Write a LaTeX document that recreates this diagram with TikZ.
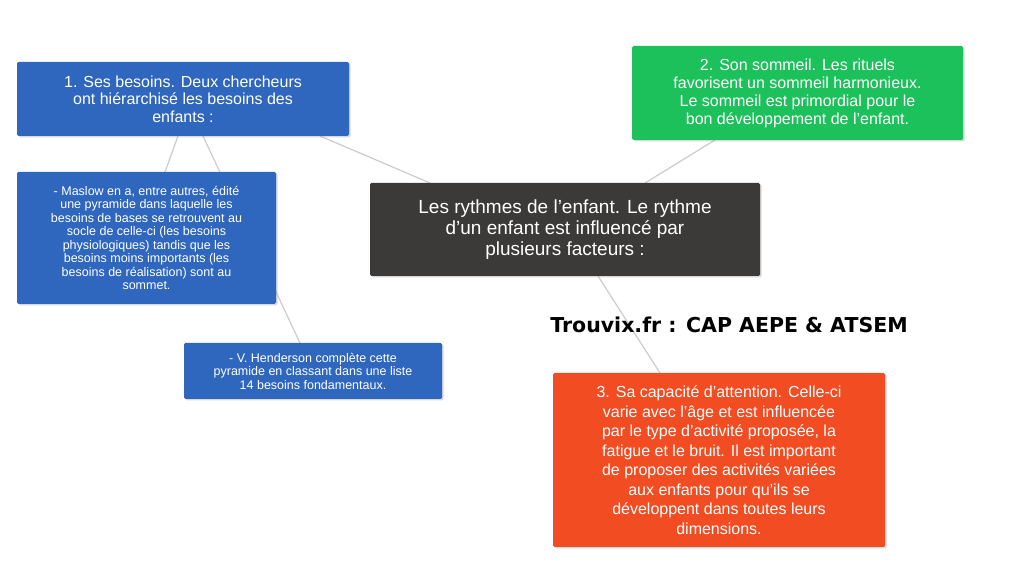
\documentclass[tikz,border=0pt]{standalone}
\usepackage{fontspec}
\setmainfont{Liberation Sans}
\newfontfamily\wmfont{DejaVu Sans}
\usetikzlibrary{shadows}
\definecolor{cdark}{HTML}{3C3A39}
\definecolor{cblue}{HTML}{2F66BE}
\definecolor{cgreen}{HTML}{1DC15B}
\definecolor{cred}{HTML}{F24C22}
\tikzset{
 box/.style={rectangle,rounded corners=1.5pt,text=white,align=center,inner sep=2pt,drop shadow={shadow xshift=1.5pt,shadow yshift=-1.5pt,opacity=0.3}},
 link/.style={draw=black!20,line width=1.2pt}
}
\begin{document}
\begin{tikzpicture}[x=1pt,y=1pt]
\useasboundingbox[fill=white] (0,0) rectangle (1024,580);
\coordinate (b1a) at (178,444); \coordinate (b1b) at (203,444);
\coordinate (mA) at (165,408);
\coordinate (hA) at (300,237);
\coordinate (cA) at (430,397); \coordinate (b1c) at (320,444);
\coordinate (cB) at (645,397); \coordinate (gA) at (715,440);
\coordinate (cC) at (598,304); \coordinate (rA) at (660,207);
\draw[link] (b1a)--(mA); \draw[link] (b1b)--(hA);
\draw[link] (cA)--(b1c); \draw[link] (cB)--(gA); \draw[link] (cC)--(rA);
\node[box,fill=cdark,minimum width=390,minimum height=93,font=\fontsize{19}{21}\selectfont] (c) at (565,350.5) {Les rythmes de l'enfant. Le rythme\\d'un enfant est influencé par\\plusieurs facteurs :};
\node[box,fill=cblue,minimum width=332,minimum height=74,font=\fontsize{16}{17.5}\selectfont] (b1) at (183,481) {1. Ses besoins. Deux chercheurs\\ont hiérarchisé les besoins des\\enfants :};
\node[box,fill=cgreen,minimum width=331,minimum height=94,font=\fontsize{16}{18}\selectfont] (g) at (797.5,487) {2. Son sommeil. Les rituels\\favorisent un sommeil harmonieux.\\Le sommeil est primordial pour le\\bon développement de l'enfant.};
\node[box,fill=cred,minimum width=332,minimum height=174,font=\fontsize{16}{19.5}\selectfont] (r) at (719,120) {3. Sa capacité d'attention. Celle-ci\\varie avec l'âge et est influencée\\par le type d'activité proposée, la\\fatigue et le bruit. Il est important\\de proposer des activités variées\\aux enfants pour qu'ils se\\développent dans toutes leurs\\dimensions.};
\node[box,fill=cblue,minimum width=259,minimum height=132,font=\fontsize{12.5}{13.5}\selectfont] (m) at (146.5,342) {- Maslow en a, entre autres, édité\\une pyramide dans laquelle les\\besoins de bases se retrouvent au\\socle de celle-ci (les besoins\\physiologiques) tandis que les\\besoins moins importants (les\\besoins de réalisation) sont au\\sommet.};
\node[box,fill=cblue,minimum width=258,minimum height=56,font=\fontsize{12.5}{13.5}\selectfont] (h) at (313,209) {- V. Henderson complète cette\\pyramide en classant dans une liste\\14 besoins fondamentaux.};
\node[font=\wmfont\bfseries\fontsize{20.5}{22}\selectfont,inner sep=0] (wm) at (729,255) {Trouvix.fr : CAP AEPE \& ATSEM};
\end{tikzpicture}
\end{document}
